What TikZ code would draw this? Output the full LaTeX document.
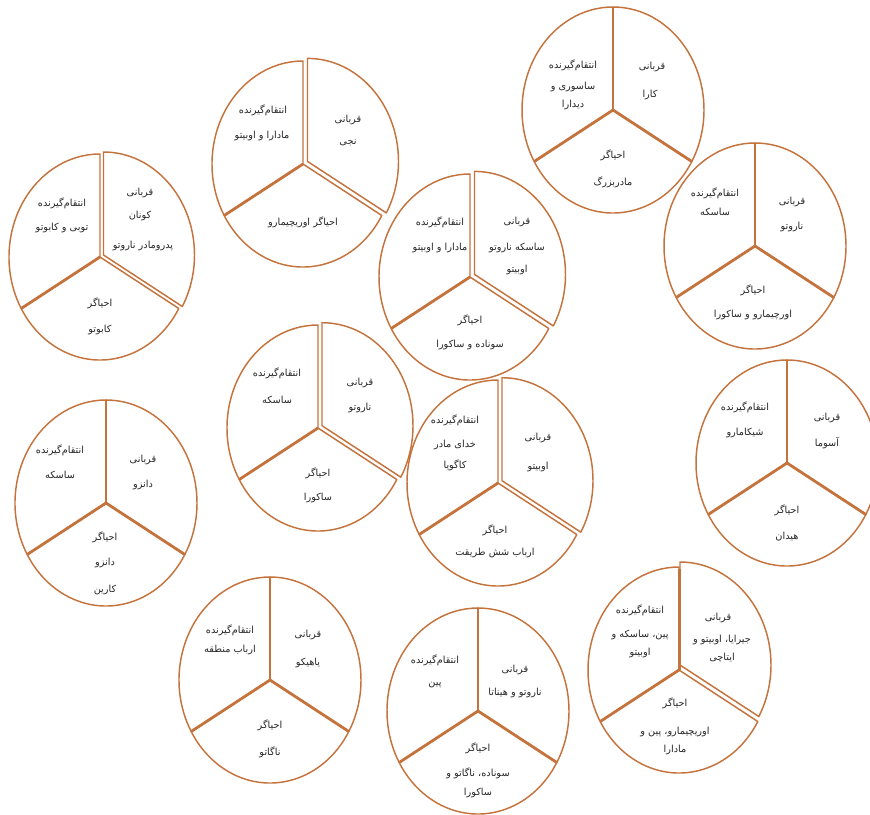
\documentclass[tikz,border=0pt]{standalone}
\usepackage{fontspec}
\newfontfamily\fa[Script=Arabic]{DejaVu Sans}
\TeXXeTstate=1
\definecolor{pc}{HTML}{C4733D}
\tikzset{
  slice/.style={draw=pc, line width=1.1pt, line join=round},
  rad/.style={draw=pc, line width=2.1pt},
  lbl/.style={inner sep=0pt, font=\fa\fontsize{7.3}{8}\selectfont, text=black!85}
}
\newcommand{\sect}[5]{\draw[slice,shift={(#1+#3,#2+#4)}] (0,0) -- (#5:91 and 103) arc[start angle=#5, delta angle=120, x radius=91, y radius=103] -- cycle;}
\newcommand{\pieX}[4]{\sect{#1}{#2}{#3}{#4}{-90}\sect{#1}{#2}{0}{0}{30}\sect{#1}{#2}{0}{0}{150}\draw[rad] (#1,#2) -- ++(150:91 and 103);}
\newcommand{\pieS}[2]{\sect{#1}{#2}{0}{0}{-90}\sect{#1}{#2}{0}{0}{30}\sect{#1}{#2}{0}{0}{150}\draw[rad] (#1,#2) -- ++(150:91 and 103);\draw[rad] (#1,#2) -- ++(30:91 and 103);\draw[rad] (#1,#2) -- ++(-90:91 and 103);}
\newcommand{\plab}[4]{\node[lbl] (#1) at (#2,#3) {#4};}
\begin{document}
\begin{tikzpicture}[x=0.75pt,y=-0.75pt]
\useasboundingbox (0,0) rectangle (870,814);
\clip (0,0) rectangle (870,814);
% circles
\pieX{100}{257}{3.5}{-2}
\pieX{303}{164}{4.5}{-2.6}
\pieX{470}{277}{4.5}{-2.6}
\pieS{613}{110}
\pieS{755}{246}
\pieX{318}{428}{4}{-2.3}
\pieX{498}{483}{4}{-2.3}
\pieS{787}{463}
\pieS{106}{503}
\pieS{270}{680}
\pieS{478}{711}
\pieX{679}{670}{1}{-5}
\draw[rad] (679.5,670) -- ++(-90:91 and 101);
% C1
\plab{c1a}{140}{193}{\beginR قربانی\endR}
\plab{c1b}{140}{216}{\beginR کونان\endR}
\plab{c1c}{143}{246}{\beginR پدرومادر ناروتو\endR}
\plab{c1d}{62}{203}{\beginR انتقام‌گیرنده\endR}
\plab{c1e}{62}{228}{\beginR توبی و کابوتو\endR}
\plab{c1f}{100}{303}{\beginR احیاگر\endR}
\plab{c1g}{100}{330}{\beginR کابوتو\endR}
% C2
\plab{c2a}{348}{120}{\beginR قربانی\endR}
\plab{c2b}{348}{143}{\beginR نجی\endR}
\plab{c2c}{263}{110}{\beginR انتقام‌گیرنده\endR}
\plab{c2d}{262}{136}{\beginR مادارا و اوبیتو\endR}
\plab{c2e}{303}{222}{\beginR احیاگر اوریچیمارو\endR}
% C3
\plab{c3a}{517}{222}{\beginR قربانی\endR}
\plab{c3b}{517}{248}{\beginR ساسکه ناروتو\endR}
\plab{c3c}{517}{270}{\beginR اوبیتو\endR}
\plab{c3d}{440}{222}{\beginR انتقام‌گیرنده\endR}
\plab{c3e}{440}{248}{\beginR مادارا و اوبیتو\endR}
\plab{c3f}{470}{320}{\beginR احیاگر\endR}
\plab{c3g}{470}{345}{\beginR سوناده و ساکورا\endR}
% C4
\plab{c4a}{652}{67}{\beginR قربانی\endR}
\plab{c4b}{650}{95}{\beginR کارا\endR}
\plab{c4c}{573}{65}{\beginR انتقام‌گیرنده\endR}
\plab{c4d}{573}{87}{\beginR ساسوری و\endR}
\plab{c4e}{573}{105}{\beginR دیدارا\endR}
\plab{c4f}{613}{155}{\beginR احیاگر\endR}
\plab{c4g}{613}{182}{\beginR مادربزرگ\endR}
% C5
\plab{c5a}{792}{202}{\beginR قربانی\endR}
\plab{c5b}{792}{227}{\beginR ناروتو\endR}
\plab{c5c}{715}{193}{\beginR انتقام‌گیرنده\endR}
\plab{c5d}{715}{212}{\beginR ساسکه\endR}
\plab{c5e}{753}{290}{\beginR احیاگر\endR}
\plab{c5f}{753}{315}{\beginR اورچیمارو و ساکورا\endR}
% C6
\plab{c6a}{360}{383}{\beginR قربانی\endR}
\plab{c6b}{360}{408}{\beginR ناروتو\endR}
\plab{c6c}{277}{373}{\beginR انتقام‌گیرنده\endR}
\plab{c6d}{277}{400}{\beginR ساسکه\endR}
\plab{c6e}{318}{473}{\beginR احیاگر\endR}
\plab{c6f}{318}{498}{\beginR ساکورا\endR}
% C7
\plab{c7a}{538}{438}{\beginR قربانی\endR}
\plab{c7b}{538}{467}{\beginR اوبیتو\endR}
\plab{c7c}{455}{420}{\beginR انتقام‌گیرنده\endR}
\plab{c7d}{455}{445}{\beginR خدای مادر\endR}
\plab{c7e}{455}{465}{\beginR کاگویا\endR}
\plab{c7f}{495}{530}{\beginR احیاگر\endR}
\plab{c7g}{495}{553}{\beginR ارباب شش طریقت\endR}
% C8
\plab{c8a}{827}{418}{\beginR قربانی\endR}
\plab{c8b}{827}{443}{\beginR آسوما\endR}
\plab{c8c}{745}{407}{\beginR انتقام‌گیرنده\endR}
\plab{c8d}{745}{433}{\beginR شیکامارو\endR}
\plab{c8e}{787}{510}{\beginR احیاگر\endR}
\plab{c8f}{787}{537}{\beginR هیدان\endR}
% C9
\plab{c9a}{143}{460}{\beginR قربانی\endR}
\plab{c9b}{143}{485}{\beginR دانزو\endR}
\plab{c9c}{60}{450}{\beginR انتقام‌گیرنده\endR}
\plab{c9d}{60}{475}{\beginR ساسکه\endR}
\plab{c9e}{105}{537}{\beginR احیاگر\endR}
\plab{c9f}{105}{563}{\beginR دانزو\endR}
\plab{c9g}{105}{590}{\beginR کارین\endR}
% C10
\plab{c10a}{308}{635}{\beginR قربانی\endR}
\plab{c10b}{308}{663}{\beginR یاهیکو\endR}
\plab{c10c}{230}{630}{\beginR انتقام‌گیرنده\endR}
\plab{c10d}{230}{650}{\beginR ارباب منطقه\endR}
\plab{c10e}{270}{725}{\beginR احیاگر\endR}
\plab{c10f}{270}{752}{\beginR ناگاتو\endR}
% C11
\plab{c11a}{515}{670}{\beginR قربانی\endR}
\plab{c11b}{515}{693}{\beginR ناروتو و هیناتا\endR}
\plab{c11c}{435}{660}{\beginR انتقام‌گیرنده\endR}
\plab{c11d}{435}{685}{\beginR پین\endR}
\plab{c11e}{478}{748}{\beginR احیاگر\endR}
\plab{c11f}{478}{773}{\beginR سوناده، ناگاتو و\endR}
\plab{c11g}{478}{793}{\beginR ساکورا\endR}
% C12
\plab{c12a}{718}{618}{\beginR قربانی\endR}
\plab{c12b}{722}{640}{\beginR جیرایا، اوبیتو و\endR}
\plab{c12c}{722}{658}{\beginR ایتاچی\endR}
\plab{c12d}{640}{610}{\beginR انتقام‌گیرنده\endR}
\plab{c12e}{640}{635}{\beginR پین، ساسکه و\endR}
\plab{c12f}{640}{653}{\beginR اوبیتو\endR}
\plab{c12g}{675}{703}{\beginR احیاگر\endR}
\plab{c12h}{675}{732}{\beginR اوریچیمارو، پین و\endR}
\plab{c12i}{675}{750}{\beginR مادارا\endR}
\end{tikzpicture}
\end{document}
